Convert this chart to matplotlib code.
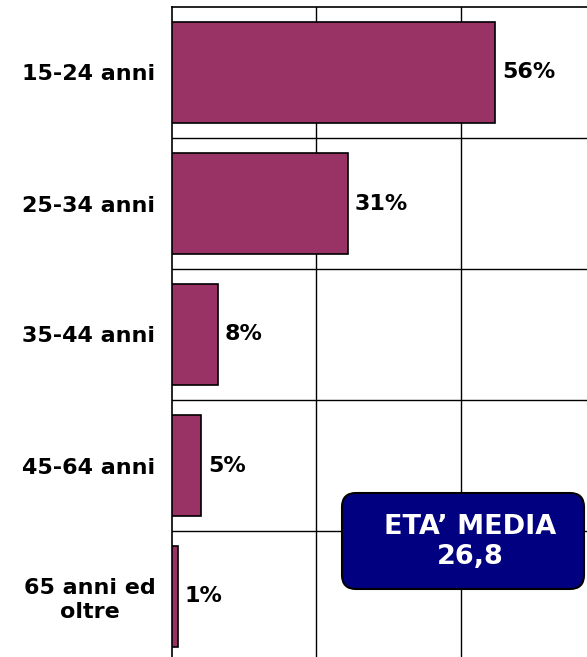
import matplotlib
matplotlib.use("Agg")
import matplotlib.pyplot as plt
from matplotlib.patches import FancyBboxPatch
from matplotlib.transforms import IdentityTransform

categories = ["15-24 anni", "25-34 anni", "35-44 anni", "45-64 anni", "65 anni ed\noltre"]
values = [56, 30.5, 8, 5, 1]
value_labels = ["56%", "31%", "8%", "5%", "1%"]
box_text = "ETA\u2019 MEDIA\n26,8"

plt.rcParams["font.family"] = "DejaVu Sans"

fig = plt.figure(figsize=(5.87, 6.57), dpi=100)
ax = fig.add_axes([172 / 587, -5 / 657, 415 / 587, 655 / 657])

y = range(len(categories))
ax.barh(y, values, height=0.77, color="#993366", edgecolor="black", linewidth=1.2, zorder=3)

for i, (v, lab) in enumerate(zip(values, value_labels)):
    ax.annotate(lab, (v, i), xytext=(5, 0), textcoords="offset points",
                va="center", ha="left", fontsize=16, fontweight="bold", zorder=4)

ax.set_xlim(0, 71.9)
ax.set_ylim(len(categories) - 0.5, -0.5)
ax.set_xticks([25, 50])
ax.set_xticklabels([])
ax.set_yticks(list(y))
ax.set_yticklabels(categories, fontsize=16, fontweight="bold", multialignment="center",
                   linespacing=1.25)
ax.set_yticks([i + 0.5 for i in range(len(categories) - 1)], minor=True)
ax.tick_params(axis="both", which="both", length=0)
ax.tick_params(axis="y", pad=12)
ax.grid(True, axis="x", which="major", color="black", linewidth=1, zorder=1)
ax.grid(True, axis="y", which="minor", color="black", linewidth=1, zorder=1)
for s in ["right", "bottom"]:
    ax.spines[s].set_visible(False)
for s in ["left", "top"]:
    ax.spines[s].set_linewidth(1.2)

# mean age box, in pixel coordinates
box = FancyBboxPatch((342, 68), 242, 96, boxstyle="round,pad=0,rounding_size=14",
                     facecolor="#000080", edgecolor="black", linewidth=1.5,
                     transform=IdentityTransform(), zorder=5)
fig.add_artist(box)
fig.text(470 / 587, 115 / 657, box_text, color="white", fontsize=19.5, fontweight="bold",
         ha="center", va="center", linespacing=1.18, zorder=6)

fig.savefig("out.png", dpi=100)
